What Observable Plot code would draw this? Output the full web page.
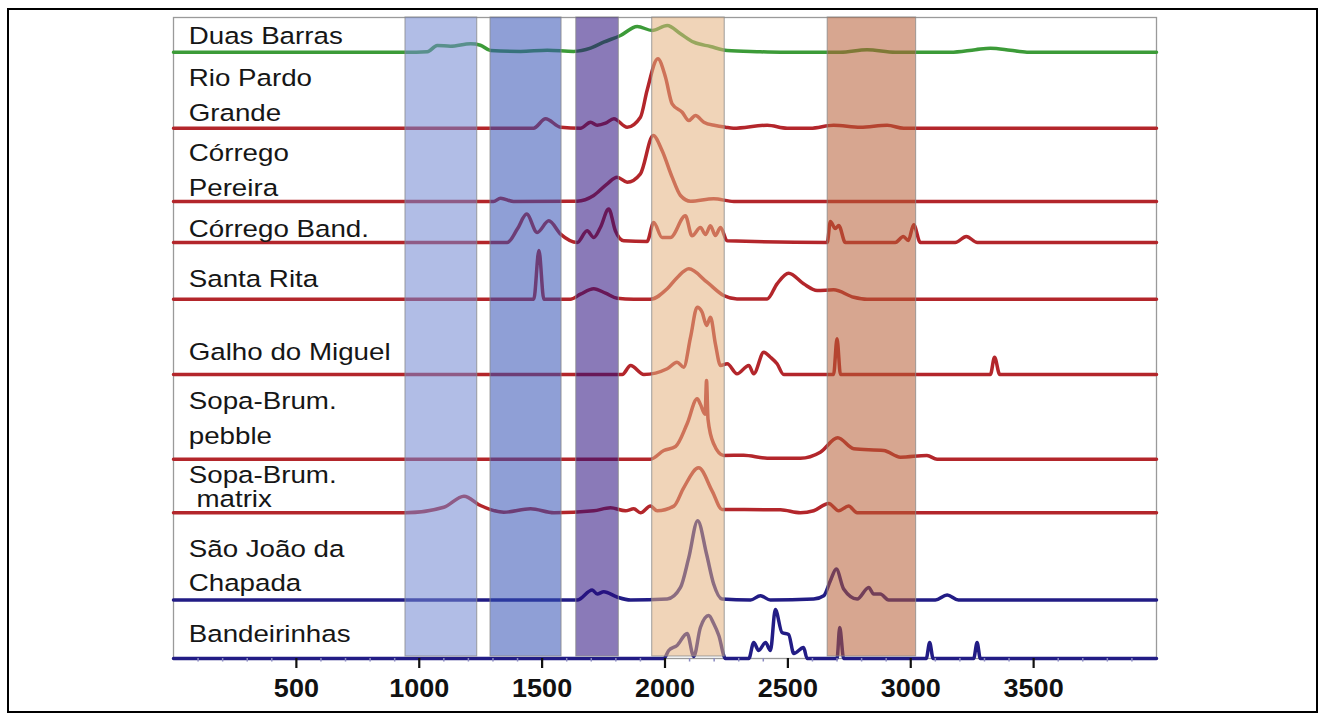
<!DOCTYPE html>
<html><head><meta charset="utf-8">
<script src="https://cdn.jsdelivr.net/npm/d3@7"></script>
<script src="https://cdn.jsdelivr.net/npm/@observablehq/plot@0.6"></script>
<style>
html,body{margin:0;padding:0;background:#fff;}
#wrap{position:relative;width:1323px;height:717px;overflow:hidden;}
#chart{position:absolute;left:0;top:0;}
#border{position:absolute;left:7px;top:8px;width:1311px;height:705px;border:2px solid #000;box-sizing:border-box;pointer-events:none;}
</style></head><body>
<div id="wrap"><div id="chart"></div><div id="border"></div></div>
<script>
// ---- data (wavenumber, relative intensity) ----
const sampleNames = ["Duas Barras","Rio Pardo\nGrande","Córrego\nPereira","Córrego Band.","Santa Rita","Galho do Miguel","Sopa-Brum.\npebble","Sopa-Brum.\n\u00a0matrix","São João da\nChapada","Bandeirinhas"];

const duasBarras = [[0,0],[944,0],[1033,0.5],[1073,6.7],[1127,6],[1209,8.4],[1249,7],[1290,1.7],[1412,0.8],[1521,2],[1628,0.8],[1697,4],[1750,10],[1819,16.7],[1887,25.7],[1948,21.7],[2009,26.7],[2063,18.4],[2117,10],[2185,5.7],[2253,1.7],[2375,0.5],[2470,0],[2714,0],[2822,2.4],[2937,0],[3161,0],[3263,2.5],[3324,4],[3405,2],[3473,0],[4000,0]];
const rioPardoGrande = [[0,0],[1465,0],[1514,9.4],[1575,1],[1656,0],[1697,6],[1724,3],[1758,5],[1792,9.4],[1846,1],[1900,11],[1927,37.7],[1971,69.4],[2002,51],[2029,24.4],[2070,16],[2097,7.7],[2124,12.7],[2158,6],[2205,2.7],[2246,1],[2278,0],[2416,3],[2497,0],[2592,0],[2686,3],[2795,1],[2904,3],[2971,0],[4000,0]];
const corregoPereira = [[0,0],[1302,0],[1331,3.3],[1384,0],[1643,0.3],[1710,6],[1765,17.7],[1805,24.3],[1846,19.3],[1900,27.7],[1952,66],[1988,51],[2029,24.3],[2063,6],[2104,0.3],[2198,2.7],[2280,0],[4000,0]];
const corregoBand = [[0,0],[1358,0],[1399,13.4],[1437,28.4],[1480,10],[1527,21.7],[1575,8.4],[1643,0],[1683,11.7],[1710,5],[1737,15],[1771,33.4],[1798,11.7],[1832,1.7],[1927,1],[1954,20],[1988,5],[2022,5],[2083,26.7],[2110,6.7],[2144,15],[2165,8],[2185,16.7],[2205,7],[2226,15],[2253,1.7],[2660,0],[2673,21],[2693,14],[2707,17],[2734,0],[2937,0],[2970,6],[2990,2],[3012,17.7],[3039,0],[3181,0],[3226,6],[3271,0],[4000,0]];
const santaRita = [[0,0],[1466,0],[1487,48.7],[1507,0],[1615,0],[1656,5],[1710,10.4],[1758,6],[1805,1],[1873,0],[1941,0],[2009,10.4],[2051,22],[2097,30.4],[2171,17],[2239,3.7],[2293,0.3],[2416,0.3],[2456,15.4],[2503,26],[2564,15.4],[2619,8.7],[2686,9.4],[2768,2],[2822,0],[4000,0]];
const galhoDoMiguel = [[0,0],[1826,0],[1860,9],[1914,0],[2009,5.7],[2049,12.3],[2076,7.3],[2104,37.3],[2131,67.3],[2151,62.3],[2169,49],[2185,57.3],[2205,30.7],[2226,9],[2253,10.7],[2293,0.7],[2341,9],[2361,0.7],[2402,22.3],[2429,17.3],[2456,10.7],[2483,0],[2686,0],[2700,35.7],[2714,0],[3324,0],[3341,17.3],[3362,0],[4000,0]];
const sopaBrumPebble = [[0,0],[1941,0],[1995,8.7],[2043,12.7],[2090,35.4],[2131,60.4],[2144,55],[2163,45],[2169,78.7],[2175,40],[2198,15.4],[2239,3.7],[2320,4],[2416,1],[2551,1],[2632,7],[2703,21.4],[2768,10.4],[2890,8.7],[2958,2],[3066,3.7],[3107,0],[4000,0]];
const sopaBrumMatrix = [[0,0],[944,0],[1100,5.6],[1182,16.6],[1249,7.3],[1344,0.6],[1453,4],[1548,0],[1710,2],[1778,5],[1839,2],[1873,4],[1900,0],[1941,6.7],[1968,2],[2036,6.7],[2076,25],[2137,45],[2192,21.7],[2232,3.4],[2470,3],[2551,0],[2605,2],[2666,9.4],[2707,2],[2747,6.7],[2782,0],[4000,0]];
const saoJoaoDaChapada = [[0,0],[1643,0],[1704,10],[1724,6],[1751,8.3],[1805,3],[1860,0],[2009,1],[2063,12.6],[2097,42.6],[2133,79.3],[2169,46],[2198,16],[2232,1],[2348,0],[2388,4.3],[2429,0],[2605,1],[2646,4.3],[2673,19.3],[2697,31],[2727,11],[2782,1],[2829,12.6],[2849,6],[2876,6],[2910,0],[3100,0],[3148,5],[3194,0],[4000,0]];
const bandeirinhas = [[0,0],[1995,0],[2015,8],[2049,13],[2090,25],[2117,2],[2144,31],[2178,43],[2198,35],[2219,23],[2246,0],[2341,0],[2361,16],[2381,8],[2409,16],[2429,8],[2449,49],[2476,26],[2503,24],[2524,5],[2564,11],[2578,0],[2700,0],[2711,31],[2727,0],[3063,0],[3077,16],[3091,0],[3256,0],[3270,16],[3283,0],[4000,0]];

const bandStart = [944, 1290, 1639, 1948, 2662];
const bandEnd   = [1236, 1579, 1812, 2243, 3022];

const majorTicks = [500, 1000, 1500, 2000, 2500, 3000, 3500];
const tickLabels = ["500", "1000", "1500", "2000", "2500", "3000", "3500"];

// ---- layout / style (not data) ----
const spectra = [duasBarras, rioPardoGrande, corregoPereira, corregoBand, santaRita, galhoDoMiguel, sopaBrumPebble, sopaBrumMatrix, saoJoaoDaChapada, bandeirinhas];
const rowBase = [606.3, 530.3, 457, 416, 359.3, 284, 199.3, 145.7, 58.5, 0];
const labelBase = [615, 538, 463, 421.3, 372, 299, 215, 151.3, 67.3, 16.3];
const lineColors = ["#3c9b38", "#b3262b", "#b3262b", "#b3262b", "#b3262b", "#b3262b", "#b3262b", "#b3262b", "#221c85", "#221c85"];
const bandColors = ["#7187d2", "#3350b4", "#2a0d7e", "#e4b17e", "#b65d35"];

const rows = [];
spectra.forEach((s, i) => s.forEach(([w, v]) => rows.push({series: i, x: w, y: rowBase[i] + v, color: lineColors[i]})));
const bands = bandStart.map((s, i) => ({x1: s, x2: bandEnd[i], color: bandColors[i]}));
const labels = sampleNames.map((n, i) => ({text: n, y: labelBase[i], i}));
const minorTicks = d3.range(100, 4000, 100).filter(v => v % 500 !== 0);

const font = "'Liberation Sans', Arial, Helvetica, sans-serif";

const chart = Plot.plot({
  width: 1323, height: 717,
  marginLeft: 173, marginRight: 167, marginTop: 17, marginBottom: 59,
  x: {domain: [0, 4000], axis: null},
  y: {domain: [0, 641], axis: null},
  color: {type: "identity"},
  style: {background: "transparent", overflow: "visible", fontFamily: font},
  marks: [
    Plot.frame({stroke: "#9a9a9a", strokeWidth: 1.3}),
    Plot.line(rows, {x: "x", y: "y", z: "series", stroke: "color", strokeWidth: 3.5, curve: "monotone-x", strokeLinejoin: "round"}),
    Plot.rect(bands, {x1: "x1", x2: "x2", y1: d => 2, y2: d => 641, fill: "color", fillOpacity: 0.55, stroke: "#8a8a8a", strokeWidth: 1, strokeOpacity: 0.8}),
    Plot.ruleX(minorTicks, {x: d => d, y1: d => -3.5, y2: d => 0, stroke: "#8a8ac0", strokeWidth: 1.5}),
    Plot.ruleX(majorTicks, {x: d => d, y1: d => -10, y2: d => 0, stroke: "#111", strokeWidth: 2.2}),
    Plot.text(majorTicks, {x: d => d, y: d => -30, text: (d, i) => tickLabels[i], fontSize: 25, fontWeight: "bold", fill: "#111", fontFamily: font, ariaLabel: d => "ticklabels"}),
    Plot.text(labels.filter(d => d.i !== 7), {x: d => 62, y: "y", text: "text", textAnchor: "start", lineAnchor: "bottom", lineHeight: 1.47, fontSize: 23.5, fill: "#161616", fontFamily: font, ariaLabel: d => "labels"}),
    Plot.text(labels.filter(d => d.i === 7), {x: d => 62, y: "y", text: "text", textAnchor: "start", lineAnchor: "bottom", lineHeight: 1.05, fontSize: 23.5, fill: "#161616", fontFamily: font, ariaLabel: d => "labels"})
  ]
});

function stretch(svg, label, sx) {
  svg.querySelectorAll(`text[aria-label="${label}"], g[aria-label="${label}"] text`).forEach(t => {
    let tr = t.getAttribute("transform");
    if (!tr) {
      const x = t.getAttribute("x") || 0, y = t.getAttribute("y") || 0;
      tr = `translate(${x},${y})`;
      t.removeAttribute("x"); t.removeAttribute("y");
    }
    t.setAttribute("transform", tr + ` scale(${sx},1)`);
  });
}
stretch(chart, "labels", 1.18);
stretch(chart, "ticklabels", 1.08);
document.getElementById("chart").appendChild(chart);
</script></body></html>
